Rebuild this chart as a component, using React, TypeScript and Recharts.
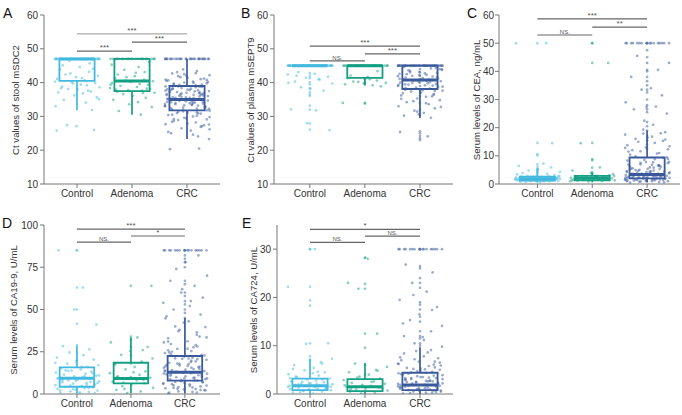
import React from 'react';
import { ComposedChart, Scatter, XAxis, YAxis, ReferenceArea, ReferenceLine } from 'recharts';

const CATEGORIES = ['Control', 'Adenoma', 'CRC'];
const COLORS = ['#43b9e0', '#14a083', '#3a5a9c'];
const FONT = '"Liberation Sans", Arial, Helvetica, sans-serif';

// horizontal jitter pattern (category units)
const JITTER = [0.05, -0.31, 0.22, -0.12, 0.38, -0.02, -0.36, 0.14, 0.29, -0.21, 0.09, -0.4, 0.33, -0.07, 0.18, -0.27, 0.41, -0.16, 0.01, 0.25, -0.34, 0.11, -0.05, 0.36, -0.24, 0.16, -0.39, 0.27, -0.1, 0.07, -0.29, 0.2, 0.4, -0.18, -0.01, 0.31, -0.37, 0.12, -0.14, 0.23, -0.26];

const rep = (v: number, n: number): number[] => Array(n).fill(v);

// ---------- Panel A: Ct values of stool mSDC2 ----------
const A_CTRL = [...rep(47, 38), 46.4, 45.7, 45.1, 44.6, 43.9, 43.2, 42.7, 42.0, 41.6, 41.1, 40.7, 44.1, 42.4, 41.3, 40.3, 39.9, 39.7, 39.2, 38.8, 38.6, 38.1, 37.9, 37.4, 37.1, 36.8, 36.2, 35.6, 34.9, 34.1, 33.0, 31.9, 40.1, 39.4, 38.3, 37.6, 35.1, 27.4, 27.1, 26.0, 25.8];
const A_CTRL_COL: number[] = [];
const A_ADEN = [...rep(47, 22), 46.1, 45.3, 44.6, 43.8, 43.1, 42.4, 41.9, 41.3, 40.9, 40.6, 40.4, 40.2, 39.9, 39.6, 39.3, 39.0, 38.7, 38.4, 38.1, 37.8, 37.6, 37.3, 37.0, 36.6, 36.1, 35.5, 34.9, 34.2, 33.6, 32.8, 31.6, 30.5, 39.4, 38.2, 41.6, 42.9, 37.9, 36.9];
const A_ADEN_COL: number[] = [];
const A_CRC = [...rep(47, 28), 43.9, 43.4, 42.7, 42.2, 41.9, 41.4, 41.0, 40.7, 40.3, 40.0, 39.8, 39.5, 39.2, 38.9, 38.7, 38.4, 38.2, 37.9, 37.7, 37.5, 37.2, 37.0, 36.8, 36.6, 36.4, 36.1, 35.9, 35.7, 35.5, 35.3, 35.1, 34.9, 34.7, 34.5, 34.3, 34.1, 33.8, 33.6, 33.4, 33.1, 32.9, 32.6, 32.3, 32.0, 31.7, 31.4, 31.1, 30.8, 30.4, 30.0, 29.6, 29.1, 28.7, 28.2, 27.7, 27.1, 26.5, 25.8, 25.0, 24.1, 23.3, 43.1, 42.0, 41.2, 40.5, 39.9, 39.3, 38.8, 38.3, 37.8, 37.3, 36.9, 36.5, 36.0, 35.6, 35.2, 34.8, 34.4, 34.0, 33.5, 33.0, 32.5, 31.9, 31.2, 30.5, 29.8, 28.9, 27.9, 26.9, 25.4, 24.6, 42.5, 40.8, 39.7, 38.6, 37.6, 36.7, 35.8, 35.0, 34.2, 33.2, 32.2, 31.0, 29.4, 27.4, 36.3, 35.4, 34.6, 37.1, 38.1, 33.9, 20.3, 20.5, 41.6, 40.2, 39.0, 38.0, 37.4, 36.2, 35.5, 34.4, 33.7, 32.8, 31.5, 30.2, 28.4, 26.2, 38.9, 37.9, 36.4, 35.1, 34.0, 33.3, 31.8, 29.2, 42.8, 40.9, 39.4, 36.8, 34.9, 32.4, 30.9, 27.6];
const A_CRC_COL: number[] = [];
// [low whisker, q1, median, q3, high whisker]
const A_BOXES = [[31.8, 40.5, 47, 47, 47], [30.5, 37.5, 40.5, 47, 47], [23.3, 31.8, 35.0, 39.0, 47]];
const A_SIG: [number, number, number, string][] = [[1, 3, 54.4, '***'], [2, 3, 52.0, '***'], [1, 2, 49.3, '***']];

// ---------- Panel B: Ct values of plasma mSEPT9 ----------
const B_CTRL = [...rep(45, 50), 43.1, 42.6, 42.4, 41.7, 41.4, 40.9, 40.3, 39.7, 38.6, 38.2, 37.6, 32.1, 31.8, 28.0, 25.9, 42.0, 41.0, 39.9];
const B_CTRL_COL = [42.8, 42.0, 41.3, 40.1, 39.5, 38.3, 37.2, 36.5, 36.0, 33.2, 32.0, 27.9, 26.1];
const B_ADEN = [...rep(45, 26), 43.4, 42.1, 41.7, 41.3, 40.6, 40.2, 39.9, 39.8, 39.5, 39.2, 38.9, 40.3, 41.0, 34.0];
const B_ADEN_COL = [41.0, 40.0, 39.4, 34.0, 33.8];
const B_CRC = [...rep(45, 45), 44.6, 44.2, 43.8, 43.5, 43.2, 42.9, 42.6, 42.3, 42.0, 41.8, 41.5, 41.3, 41.0, 40.8, 40.6, 40.4, 40.2, 40.0, 39.8, 39.6, 39.4, 39.2, 39.0, 38.7, 38.5, 38.2, 37.9, 37.6, 37.3, 37.0, 36.6, 36.2, 35.8, 35.3, 34.8, 34.2, 33.6, 33.0, 32.4, 31.7, 31.0, 30.2, 29.6, 43.9, 43.0, 42.2, 41.6, 41.1, 40.5, 39.9, 39.1, 38.4, 37.7, 36.9, 35.9, 34.5, 32.8, 30.6, 25.4, 24.1, 44.3, 43.6, 42.7, 41.9, 41.2, 40.7, 40.1, 39.5, 38.8, 38.0, 37.2, 36.4, 35.2, 33.9, 31.4, 44.0, 42.5, 40.9, 39.3, 37.5];
const B_CRC_COL = [44.0, 43.0, 42.0, 41.0, 40.0, 39.0, 38.0, 36.0, 34.0, 32.0, 30.5, 25.6, 25.0, 24.2, 23.5, 23.0];
const B_BOXES = [[45, 45, 45, 45, 45], [39.3, 41.4, 45, 45, 45], [29.5, 38.1, 40.8, 45, 45]];
const B_SIG: [number, number, number, string][] = [[1, 3, 50.8, '***'], [2, 3, 48.5, '***'], [1, 2, 46.4, 'NS.']];

// ---------- Panel C: Serum CEA ----------
const C_CTRL = [0.6, 0.8, 0.9, 1.0, 1.1, 1.2, 1.2, 1.3, 1.4, 1.4, 1.5, 1.5, 1.6, 1.6, 1.7, 1.7, 1.8, 1.8, 1.9, 1.9, 2.0, 2.0, 2.1, 2.1, 2.2, 2.2, 2.3, 2.4, 2.4, 2.5, 2.6, 2.7, 2.8, 2.9, 3.0, 3.2, 3.4, 1.0, 1.3, 1.5, 1.7, 1.9, 2.1, 2.3, 2.5, 2.7, 1.1, 1.6, 2.0, 2.4, 0.7, 1.2, 1.8, 2.2, 2.6, 3.6, 3.9, 4.3, 4.8, 5.3, 5.9, 6.4, 7.2, 1.4, 1.9, 2.3, 50, 50, 14.5];
const C_CTRL_COL = [50, 14.6, 10.6, 10.1, 7.0, 6.1, 5.3, 4.6, 4.0];
const C_ADEN = [0.9, 1.1, 1.2, 1.3, 1.4, 1.5, 1.6, 1.7, 1.8, 1.9, 2.0, 2.0, 2.1, 2.2, 2.3, 2.4, 2.5, 2.6, 2.7, 2.8, 2.9, 3.0, 3.2, 1.3, 1.6, 1.9, 2.2, 2.5, 2.8, 1.5, 2.0, 2.4, 3.5, 4.0, 4.8, 5.9, 43, 14.5, 2.9, 1.0];
const C_ADEN_COL = [50, 50, 43, 14.6, 8.8, 8.4, 5.8, 4.2, 3.6];
const C_CRC = [...rep(50, 16), 0.5, 0.7, 0.9, 1.0, 1.1, 1.2, 1.3, 1.4, 1.5, 1.6, 1.7, 1.8, 1.9, 2.0, 2.1, 2.2, 2.3, 2.4, 2.5, 2.6, 2.7, 2.8, 2.9, 3.0, 3.1, 3.2, 3.3, 3.4, 3.5, 3.6, 3.7, 3.8, 4.0, 4.2, 4.4, 4.6, 4.8, 5.0, 5.3, 5.6, 5.9, 6.2, 6.6, 7.0, 7.4, 7.8, 8.3, 8.8, 9.3, 9.8, 1.0, 1.5, 2.0, 2.5, 3.0, 3.5, 4.1, 4.7, 5.4, 6.1, 6.9, 7.7, 8.6, 9.5, 1.2, 1.8, 2.4, 3.0, 3.7, 4.5, 5.5, 6.6, 7.9, 1.4, 2.2, 3.1, 4.3, 5.8, 0.8, 1.6, 2.6, 3.9, 10.4, 11.0, 11.6, 12.3, 13.0, 13.8, 14.6, 15.3, 16.0, 16.8, 17.5, 18.4, 19.3, 10.8, 12.0, 13.4, 15.0, 16.4, 18.0, 11.5, 21.0, 22.5, 25.0, 26.5, 27.5, 29.0, 31.5, 33.5, 34.0, 38.0, 40.5, 43.0, 45.5, 27.3, 0.6, 1.1, 1.7, 2.3, 2.9, 3.6, 4.4, 5.2, 6.4, 7.5, 8.9, 1.3, 2.1, 2.8, 3.4, 4.9, 6.8, 12.8, 15.8, 17.9];
const C_CRC_COL = [50, 50, 47.5, 45, 43, 40.5, 40, 38, 36.5, 35, 33.5, 32.5, 30, 28, 26.5, 25.5, 22, 20.5, 19, 17, 15.5, 14, 12.5];
const C_BOXES = [[0.5, 1.2, 1.9, 2.6, 5.5], [0.6, 1.3, 2.0, 2.9, 3.9], [0.5, 2.0, 3.4, 9.4, 19.0]];
const C_SIG: [number, number, number, string][] = [[1, 3, 58.6, '***'], [2, 3, 55.7, '**'], [1, 2, 52.9, 'NS.']];

// ---------- Panel D: Serum CA19-9 ----------
const D_CTRL = [0.3, 0.8, 1.2, 1.6, 2.0, 2.5, 3.0, 3.4, 3.9, 4.3, 4.8, 5.2, 5.7, 6.1, 6.6, 7.0, 7.5, 8.0, 8.5, 9.0, 9.4, 9.9, 10.4, 10.9, 11.5, 12.0, 12.6, 13.2, 13.9, 14.6, 15.3, 16.1, 17.0, 18.0, 19.1, 20.3, 21.6, 23.0, 24.6, 26.4, 28.3, 1.0, 2.2, 3.6, 5.0, 6.4, 7.8, 9.2, 10.6, 12.2, 14.0, 16.0, 18.5, 0.5, 2.8, 5.5, 8.2, 11.0, 13.6, 4.0, 7.2, 85, 63, 50, 41];
const D_CTRL_COL = [85, 85, 63, 50, 41.5, 29, 24, 20];
const D_ADEN = [0.5, 1.5, 2.5, 3.6, 4.6, 5.5, 6.4, 7.3, 8.1, 8.9, 9.6, 10.4, 11.3, 12.3, 13.4, 14.6, 16.0, 17.5, 19.2, 21.0, 23.2, 25.5, 27.8, 30.5, 33.5, 6.8, 8.4, 10.0, 12.8, 18.0, 26.0, 3.0, 64];
const D_ADEN_COL = [64, 34, 32, 28, 23, 18, 10, 9];
const D_CRC = [...rep(85, 16), 0.3, 0.9, 1.5, 2.1, 2.7, 3.3, 3.9, 4.5, 5.1, 5.7, 6.3, 6.9, 7.5, 8.1, 8.7, 9.3, 9.9, 10.5, 11.1, 11.7, 12.3, 12.9, 13.5, 14.1, 14.8, 15.5, 16.2, 16.9, 17.7, 18.5, 19.3, 20.2, 21.1, 22.1, 23.1, 24.2, 25.4, 26.7, 28.1, 29.6, 31.2, 33.0, 35.0, 37.2, 39.6, 42.2, 44.8, 1.2, 2.4, 3.6, 4.8, 6.0, 7.2, 8.4, 9.6, 10.8, 12.0, 13.2, 14.4, 15.8, 17.3, 19.0, 20.8, 22.8, 25.0, 27.6, 30.5, 34.0, 38.0, 43.0, 0.8, 2.9, 5.0, 7.1, 9.2, 11.3, 13.4, 15.6, 18.0, 20.6, 23.5, 26.8, 31.0, 36.5, 4.1, 8.8, 12.6, 16.4, 21.5, 47, 50, 52, 54, 57, 60, 64, 67, 70, 74, 78, 82, 46, 55, 62, 2.3, 5.8, 9.5, 12.1, 14.9, 17.8, 21.0, 24.6, 28.9, 33.5, 40.0, 6.6, 10.2, 13.9, 19.7, 3.1, 7.9, 11.6, 16.6, 25.9];
const D_CRC_COL = [85, 85, 82, 80, 78, 75, 67, 65, 60, 58, 55, 53, 50, 48, 45];
const D_BOXES = [[0.3, 4.3, 9.3, 15.8, 28.6], [0.5, 6.3, 9.2, 18.5, 33.5], [0.3, 7.9, 12.8, 22.5, 44.8]];
const D_SIG: [number, number, number, string][] = [[1, 3, 97.6, '***'], [2, 3, 93.5, '*'], [1, 2, 89.9, 'NS.']];

// ---------- Panel E: Serum CA724 ----------
const E_CTRL = [0.1, 0.3, 0.5, 0.6, 0.8, 0.9, 1.0, 1.1, 1.2, 1.3, 1.4, 1.5, 1.6, 1.7, 1.8, 1.9, 2.0, 2.1, 2.2, 2.4, 2.6, 2.8, 3.0, 3.2, 3.5, 3.8, 4.1, 4.5, 4.9, 5.4, 6.0, 6.6, 7.3, 0.4, 0.9, 1.3, 1.7, 2.1, 2.5, 3.0, 3.6, 4.3, 5.2, 6.3, 0.7, 1.5, 2.3, 3.3, 4.6, 1.1, 2.0, 30, 22.2, 10.5, 10.4];
const E_CTRL_COL = [30, 30, 22.2, 19.4, 18.3, 10.5, 7.8, 7.0];
const E_ADEN = [0.1, 0.3, 0.5, 0.7, 0.9, 1.1, 1.3, 1.5, 1.7, 1.9, 2.1, 2.3, 2.6, 2.9, 3.2, 3.6, 4.0, 4.5, 5.0, 5.6, 6.3, 0.6, 1.2, 1.8, 2.5, 3.4, 4.8, 1.0, 28, 23, 12.5, 21.8];
const E_ADEN_COL = [28.2, 28.2, 22.8, 21.8, 12.5, 9.6, 6.0, 4.0];
const E_CRC = [...rep(30, 16), 0.1, 0.3, 0.5, 0.7, 0.9, 1.1, 1.3, 1.5, 1.7, 1.9, 2.1, 2.3, 2.5, 2.7, 2.9, 3.1, 3.3, 3.5, 3.8, 4.1, 4.4, 4.7, 5.0, 5.4, 5.8, 6.2, 6.7, 7.2, 7.8, 8.4, 9.1, 9.8, 0.2, 0.6, 1.0, 1.4, 1.8, 2.2, 2.6, 3.0, 3.5, 4.0, 4.6, 5.2, 5.9, 6.7, 7.6, 8.6, 0.4, 0.8, 1.2, 1.6, 2.0, 2.4, 2.8, 3.3, 3.9, 4.5, 5.3, 6.1, 7.0, 0.3, 1.0, 1.7, 2.5, 3.4, 4.3, 5.5, 10.5, 11.2, 12.0, 13.0, 14.1, 15.3, 16.5, 18.0, 19.5, 21.2, 23.0, 25.2, 26.8, 11.8, 14.6, 17.4, 20.5, 0.5, 1.2, 1.9, 2.6, 3.3, 4.2, 5.1, 6.3, 7.4, 8.9, 0.9, 1.5, 2.2, 3.1, 4.8, 0.7, 1.4, 2.7, 3.7, 6.5];
const E_CRC_COL = [30, 30, 26.5, 26.0, 24.0, 23.0, 22.0, 19.0, 18.5, 17.5, 16.0, 15.0, 13.0, 12.0, 11.5, 10.5, 10.0];
const E_BOXES = [[0, 0.8, 1.7, 3.2, 7.3], [0, 0.6, 1.5, 3.1, 6.4], [0, 0.8, 1.85, 4.4, 9.7]];
const E_SIG: [number, number, number, string][] = [[1, 3, 34.1, '*'], [2, 3, 32.7, 'NS.'], [1, 2, 31.4, 'NS.']];

type PanelProps = {
  left: number; top: number; width: number; height: number;
  margin: { top: number; right: number; bottom: number; left: number };
  yWidth: number;
  yTickMargin?: number;
  xDomain: [number, number];
  yDomain: [number, number];
  yTicks: number[];
  clouds: number[][];
  columns: number[][];
  boxes: number[][];
  sigs: [number, number, number, string][];
  sigTopColor?: string;
};

function makePoints(cloud: number[], column: number[], idx: number) {
  const a = cloud.map((v, k) => ({ x: idx + 1 + JITTER[(k + idx * 13) % JITTER.length], y: v }));
  const b = column.map((v) => ({ x: idx + 1, y: v }));
  return [...a, ...b];
}

function Panel(p: PanelProps) {
  const half = 0.32;
  return (
    <div style={{ position: 'absolute', left: p.left, top: p.top }}>
      <ComposedChart width={p.width} height={p.height} margin={p.margin}>
        <XAxis
          type="number"
          dataKey="x"
          domain={p.xDomain}
          ticks={[1, 2, 3]}
          allowDataOverflow
          height={20}
          tickSize={4}
          tickFormatter={(v: number) => CATEGORIES[Math.round(v) - 1] || ''}
          tick={{ fontSize: 10, fill: '#333', fontFamily: FONT }}
          axisLine={{ stroke: '#777' }}
          tickLine={{ stroke: '#777' }}
        />
        <YAxis
          type="number"
          dataKey="y"
          domain={p.yDomain}
          ticks={p.yTicks}
          allowDataOverflow
          width={p.yWidth}
          tickSize={4}
          tickMargin={p.yTickMargin ?? 2}
          tick={{ fontSize: 10, fill: '#333', fontFamily: FONT }}
          axisLine={{ stroke: '#777' }}
          tickLine={{ stroke: '#777' }}
        />
        {p.clouds.map((cl, i) => (
          <Scatter
            key={'s' + i}
            data={makePoints(cl, p.columns[i], i)}
            isAnimationActive={false}
            shape={(sp: any) => (
              <circle cx={sp.cx} cy={sp.cy} r={1.35} fill={COLORS[i]} fillOpacity={0.5} />
            )}
          />
        ))}
        {p.boxes.map((b, i) => (
          <ReferenceLine
            key={'wl' + i}
            segment={[{ x: i + 1, y: b[0] }, { x: i + 1, y: b[1] }]}
            stroke={COLORS[i]}
            strokeWidth={1.7}
            ifOverflow="visible"
          />
        ))}
        {p.boxes.map((b, i) => (
          <ReferenceLine
            key={'wh' + i}
            segment={[{ x: i + 1, y: b[3] }, { x: i + 1, y: b[4] }]}
            stroke={COLORS[i]}
            strokeWidth={1.7}
            ifOverflow="visible"
          />
        ))}
        {p.boxes.map((b, i) => (
          <ReferenceArea
            key={'b' + i}
            x1={i + 1 - half}
            x2={i + 1 + half}
            y1={b[1]}
            y2={b[3]}
            fill="none"
            fillOpacity={0}
            stroke={COLORS[i]}
            strokeWidth={1.8}
            ifOverflow="visible"
          />
        ))}
        {p.boxes.map((b, i) => (
          <ReferenceLine
            key={'m' + i}
            segment={[{ x: i + 1 - half, y: b[2] }, { x: i + 1 + half, y: b[2] }]}
            stroke={COLORS[i]}
            strokeWidth={3}
            ifOverflow="visible"
          />
        ))}
        {p.sigs.map((s, i) => (
          <ReferenceLine
            key={'g' + i}
            segment={[{ x: s[0], y: s[2] }, { x: s[1], y: s[2] }]}
            stroke={i === 0 && p.sigTopColor ? p.sigTopColor : '#666'}
            strokeWidth={1.2}
            ifOverflow="visible"
            label={{ value: s[3], position: 'top', offset: 1, fontSize: s[3] === 'NS.' ? 6 : 8, fill: '#555', fontFamily: FONT }}
          />
        ))}
      </ComposedChart>
    </div>
  );
}

const letterStyle = (left: number, top: number): React.CSSProperties => ({
  position: 'absolute', left, top, fontSize: 14, lineHeight: '14px', fontFamily: FONT, color: '#111',
});

const yLabelStyle = (cx: number, cy: number): React.CSSProperties => ({
  position: 'absolute', left: cx, top: cy, transform: 'translate(-50%, -50%) rotate(-90deg)',
  fontSize: 9.6, lineHeight: '11px', fontFamily: FONT, color: '#333', whiteSpace: 'nowrap',
});

export default function App() {
  return (
    <div style={{ position: 'absolute', left: 0, top: 0, width: 682, height: 415, background: '#fff', overflow: 'hidden' }}>
      <Panel left={0} top={0} width={230} height={210} margin={{ top: 15, right: 10, bottom: 6, left: 0 }} yWidth={44}
        xDomain={[0.4, 3.6]} yDomain={[10, 60]} yTicks={[10, 20, 30, 40, 50, 60]}
        clouds={[A_CTRL, A_ADEN, A_CRC]} columns={[A_CTRL_COL, A_ADEN_COL, A_CRC_COL]} boxes={A_BOXES} sigs={A_SIG} sigTopColor="#aaa" />
      <Panel left={225} top={0} width={235} height={210} margin={{ top: 15, right: 7, bottom: 6, left: 0 }} yWidth={49}
        xDomain={[0.35, 3.6]} yDomain={[10, 60]} yTicks={[10, 20, 30, 40, 50, 60]}
        clouds={[B_CTRL, B_ADEN, B_CRC]} columns={[B_CTRL_COL, B_ADEN_COL, B_CRC_COL]} boxes={B_BOXES} sigs={B_SIG} />
      <Panel left={450} top={0} width={232} height={210} margin={{ top: 15, right: 2, bottom: 6, left: 0 }} yWidth={49} yTickMargin={1}
        xDomain={[0.3, 3.6]} yDomain={[0, 60]} yTicks={[0, 10, 20, 30, 40, 50, 60]}
        clouds={[C_CTRL, C_ADEN, C_CRC]} columns={[C_CTRL_COL, C_ADEN_COL, C_CRC_COL]} boxes={C_BOXES} sigs={C_SIG} />
      <Panel left={0} top={205} width={230} height={210} margin={{ top: 20, right: 10, bottom: 1, left: 0 }} yWidth={44}
        xDomain={[0.39, 3.65]} yDomain={[0, 100]} yTicks={[0, 25, 50, 75, 100]}
        clouds={[D_CTRL, D_ADEN, D_CRC]} columns={[D_CTRL_COL, D_ADEN_COL, D_CRC_COL]} boxes={D_BOXES} sigs={D_SIG} />
      <Panel left={225} top={205} width={235} height={210} margin={{ top: 20, right: 7, bottom: 1, left: 0 }} yWidth={52}
        xDomain={[0.4, 3.6]} yDomain={[0, 35]} yTicks={[0, 10, 20, 30]}
        clouds={[E_CTRL, E_ADEN, E_CRC]} columns={[E_CTRL_COL, E_ADEN_COL, E_CRC_COL]} boxes={E_BOXES} sigs={E_SIG} />

      <div style={letterStyle(3, 6)}>A</div>
      <div style={letterStyle(241, 6)}>B</div>
      <div style={letterStyle(467, 6)}>C</div>
      <div style={letterStyle(2, 216)}>D</div>
      <div style={letterStyle(242, 216)}>E</div>

      <div style={yLabelStyle(15, 100)}>Ct values of stool mSDC2</div>
      <div style={yLabelStyle(250, 100)}>Ct values of plasma mSEPT9</div>
      <div style={yLabelStyle(476, 100)}>Serum levels of CEA, ng/mL</div>
      <div style={yLabelStyle(13, 310)}>Serum levels of CA19-9, U/mL</div>
      <div style={yLabelStyle(253, 310)}>Serum levels of CA724, U/mL</div>
    </div>
  );
}
